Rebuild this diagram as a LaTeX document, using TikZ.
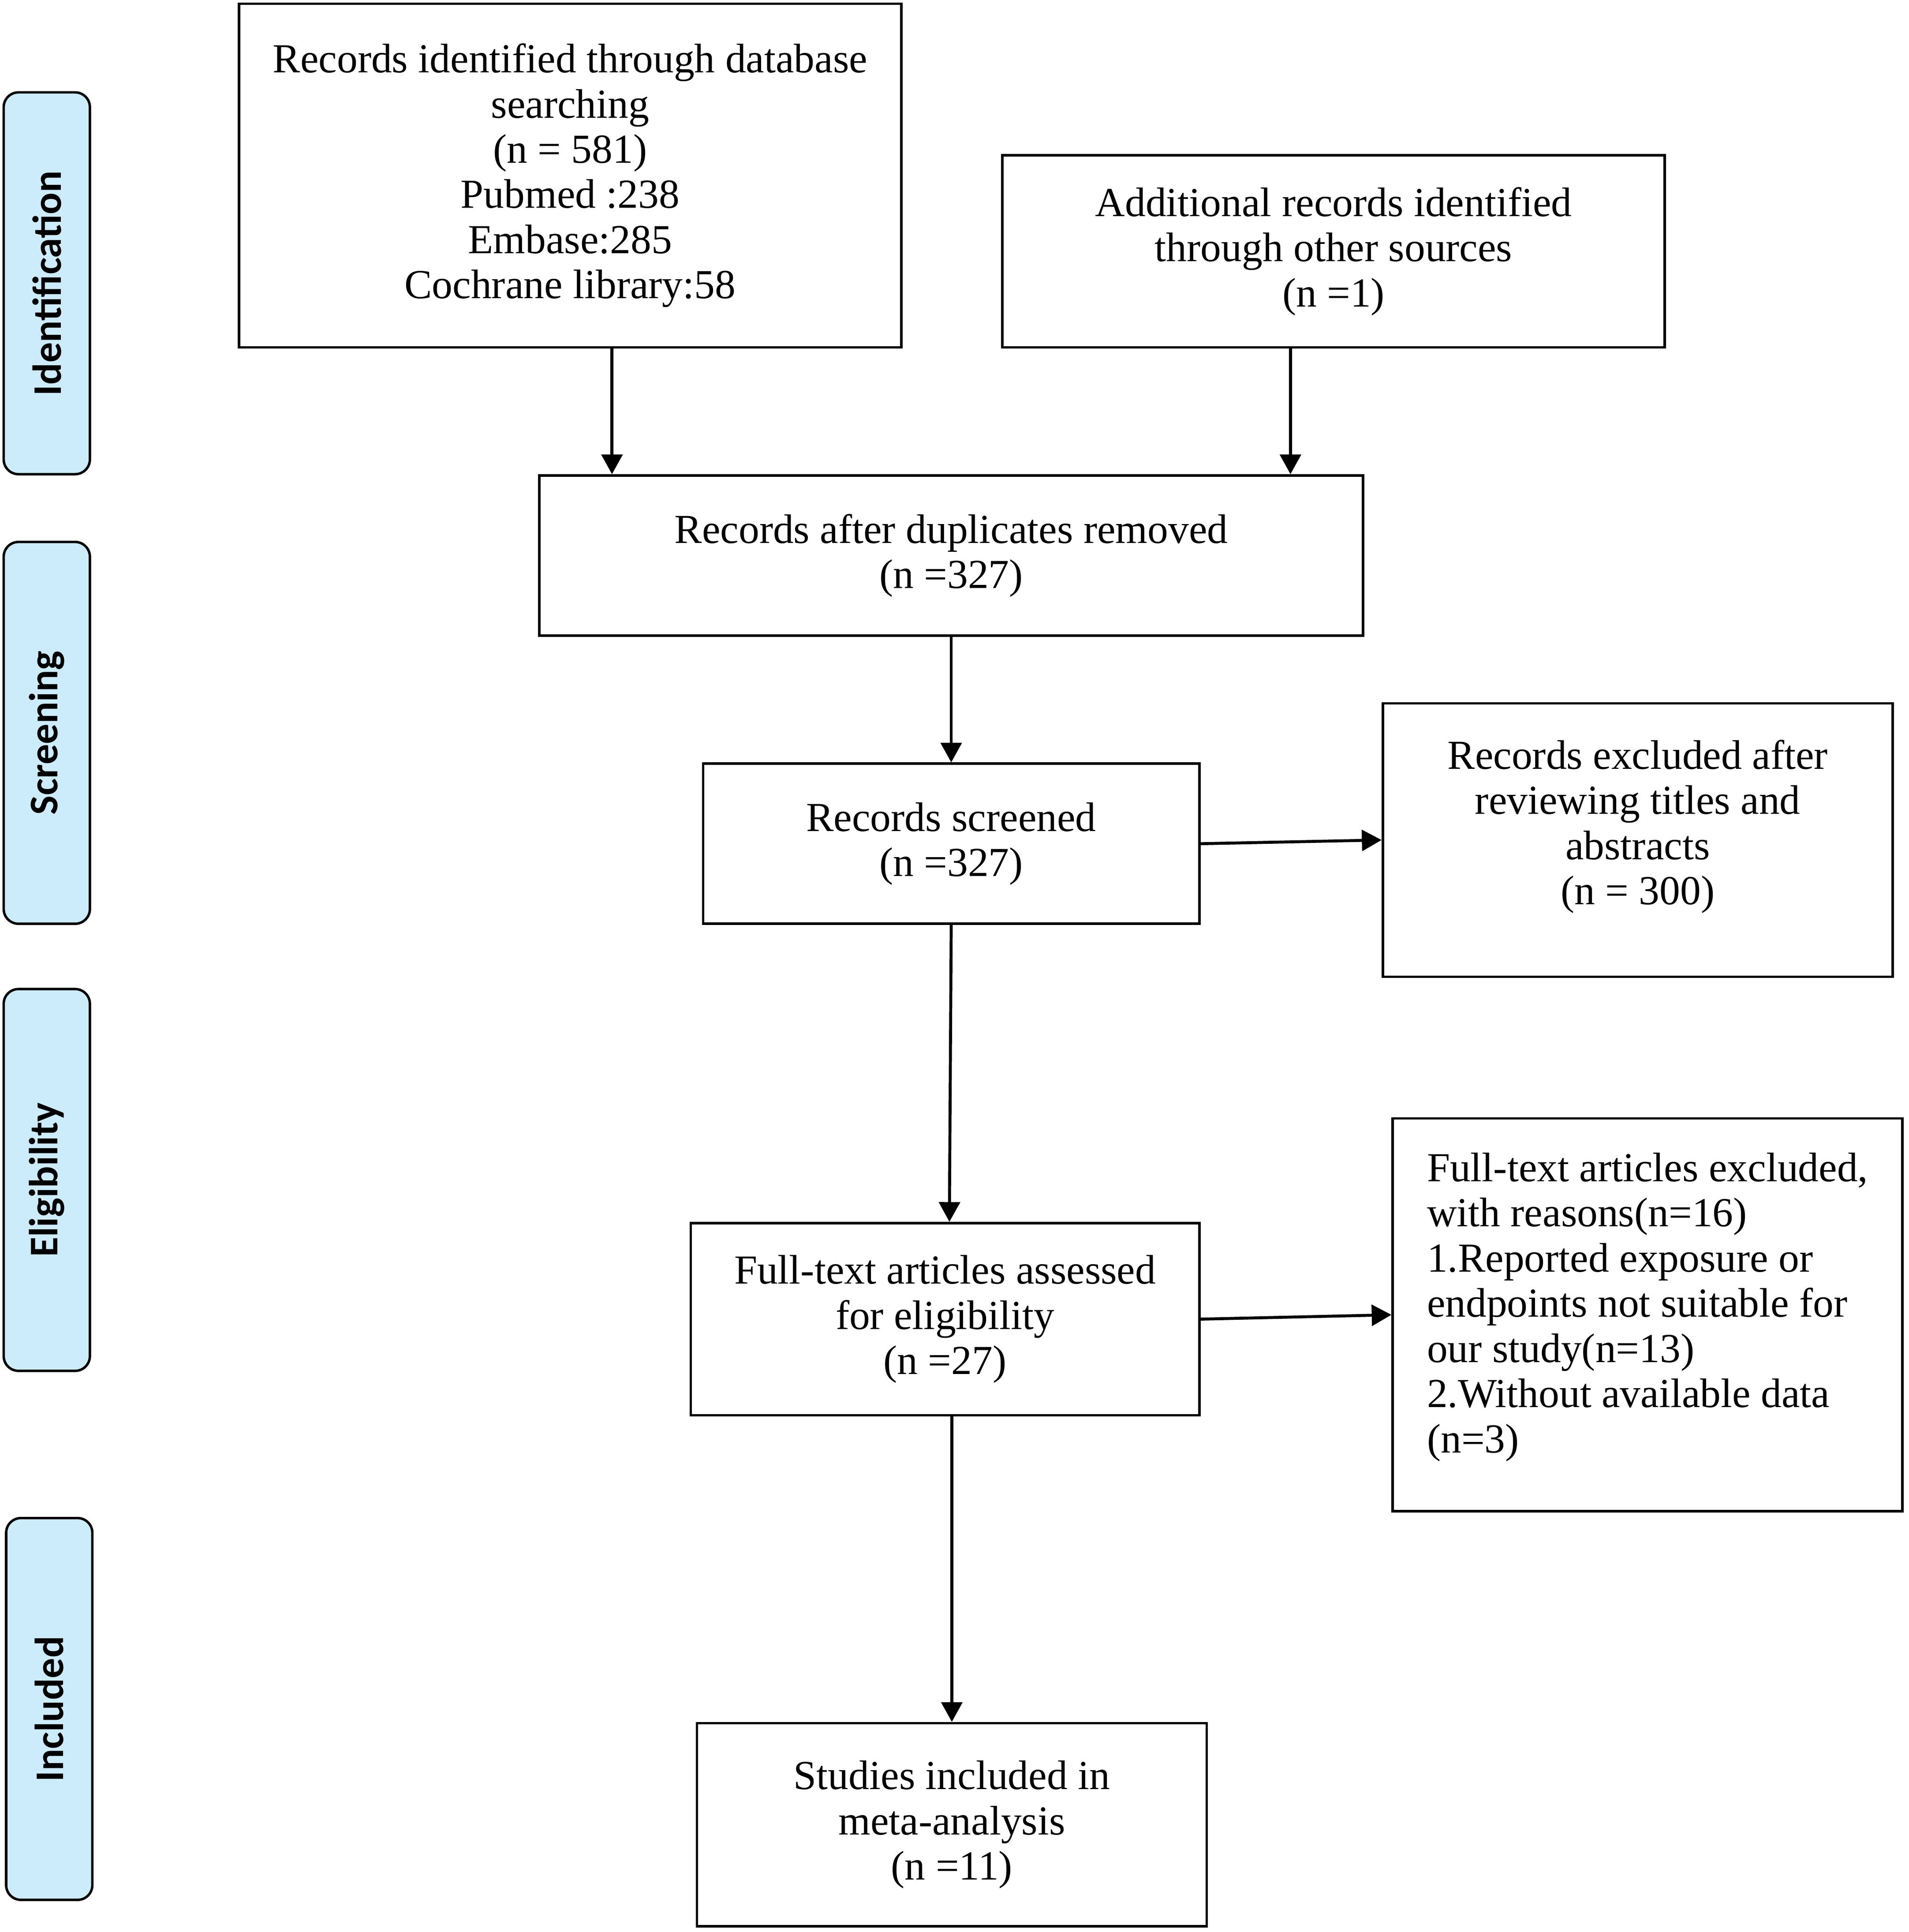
\documentclass[tikz,border=0pt]{standalone}
\usepackage{fontspec}
\setmainfont{Liberation Serif}
\newfontfamily\tabfont{Carlito}
\usetikzlibrary{arrows.meta}
\definecolor{tabblue}{RGB}{204,236,252}
\begin{document}
\begin{tikzpicture}[x=1pt,y=-1pt,
 box/.style={draw, line width=2pt, align=center, font=\fontsize{33.5}{36.7}\selectfont, inner sep=0pt},
 tab/.style={draw, line width=2pt, rounded corners=12pt, fill=tabblue, minimum width=310pt, minimum height=70pt, inner sep=0pt, rotate=90, font=\tabfont\bfseries\fontsize{33}{36}\selectfont},
 arr/.style={line width=2.4pt, -{Triangle[length=16pt,width=17pt]}}]
\useasboundingbox (0,0) rectangle (1550,1568.6);

% phase tabs
\node[tab] (t1) at (38,230) {Identification};
\node[tab] (t2) at (38,595) {Screening};
\node[tab] (t3) at (38,958) {Eligibility};
\node[tab] (t4) at (40,1387.5) {Included};

% boxes
\node[box, minimum width=538pt, minimum height=279pt] (A) at (463,142.5)
 {Records identified through database\\searching\\(n = 581)\\Pubmed :238\\Embase:285\\Cochrane library:58};
\node[box, minimum width=538pt, minimum height=156pt] (B) at (1083,204)
 {Additional records identified\\through other sources\\(n =1)};
\node[box, minimum width=669pt, minimum height=130pt] (C) at (772.5,451)
 {Records after duplicates removed\\(n =327)};
\node[box, minimum width=403pt, minimum height=130pt] (D) at (772.5,685)
 {Records screened\\(n =327)};
\node[box, minimum width=414pt, minimum height=222pt] (E) at (1330,682)
 {Records excluded after\\reviewing titles and\\abstracts\\(n = 300)\\[-8pt]};
\node[box, minimum width=413pt, minimum height=156pt] (F) at (767.5,1071)
 {Full-text articles assessed\\for eligibility\\(n =27)};
\node[box, minimum width=414pt, minimum height=319pt, align=left] (G) at (1338,1067.5)
 {Full-text articles excluded,\\with reasons(n=16)\\1.Reported exposure or\\endpoints not suitable for\\our study(n=13)\\2.Without available data\\(n=3)\\[-17pt]};
\node[box, minimum width=414pt, minimum height=165pt] (H) at (773,1481.5)
 {Studies included in\\meta-analysis\\(n =11)};

% connectors
\coordinate (xa) at (497,0);
\coordinate (xb) at (1048,0);
\coordinate (xm) at (773,0);
\coordinate (xf) at (771,0);
\draw[arr] (xa |- A.south) -- (xa |- C.north);
\draw[arr] (xb |- B.south) -- (xb |- C.north);
\draw[arr] (C.south) -- (D.north);
\draw[arr] (D.east) -- (E.west);
\draw[arr] (D.south) -- (xf |- F.north);
\draw[arr] (F.east) -- (G.west);
\draw[arr] (xm |- F.south) -- (H.north);
\end{tikzpicture}
\end{document}
